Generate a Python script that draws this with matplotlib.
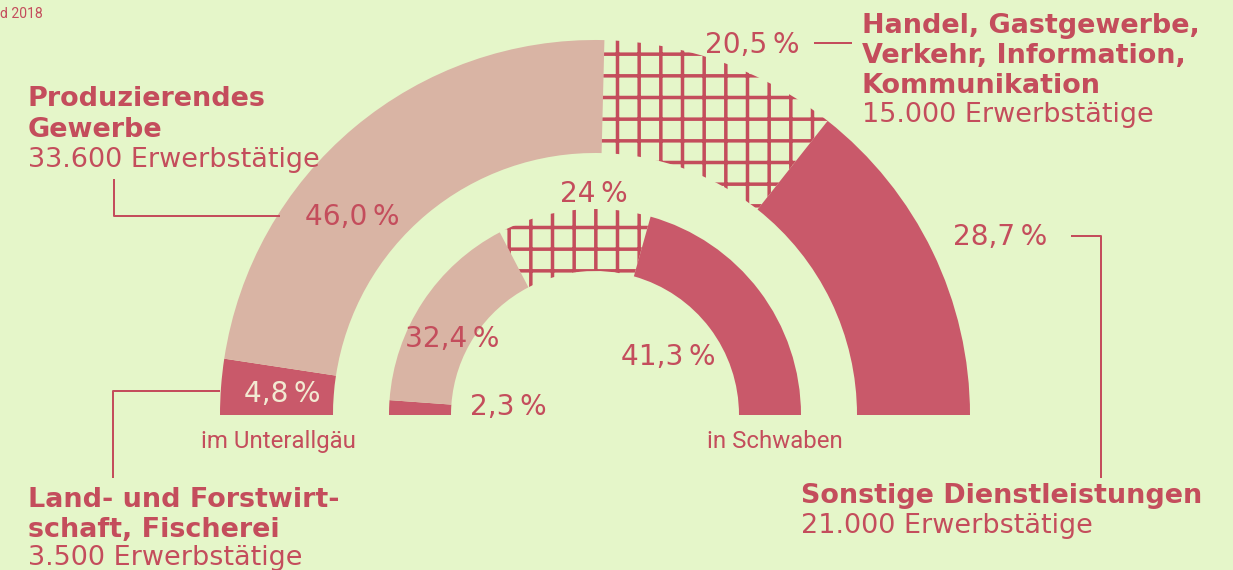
import numpy as np
import matplotlib.pyplot as plt
from matplotlib.patches import Wedge

# Erwerbstätige nach Wirtschaftsbereichen 2018
bereiche = ['Land- und Forstwirtschaft, Fischerei', 'Produzierendes Gewerbe',
            'Handel, Gastgewerbe, Verkehr, Information, Kommunikation',
            'Sonstige Dienstleistungen']
unterallgaeu = [4.8, 46.0, 20.5, 28.7]     # Anteil in %
schwaben = [2.3, 32.4, 24.0, 41.3]         # Anteil in %
erwerbstaetige = [3500, 33600, 15000, 21000]
labels_ua = ['4,8', '46,0', '20,5', '28,7']
labels_sw = ['2,3', '32,4', '24', '41,3']

BG = '#e5f6c9'
RED = '#c44d5c'
LIGHT = '#d9b4a4'
DARK = '#c9596a'
colors = [DARK, LIGHT, 'none', DARK]
hatches = [None, None, '+', None]

DPI = 130
plt.rcParams['hatch.linewidth'] = 3.5 * 72 / DPI
plt.rcParams['font.family'] = ['DejaVu Sans']

def pt(px):
    return px * 72 / DPI

fig = plt.figure(figsize=(1233 / DPI, 570 / DPI), dpi=DPI, facecolor=BG)
ax = fig.add_axes([0, 0, 1, 1])
ax.set_xlim(0, 1233)
ax.set_ylim(570, 0)
ax.axis('off')
ax.set_facecolor(BG)

cx, cy = 595, 415

def halbring(werte, r, w):
    start = 180.0
    for v, c, h in zip(werte, colors, hatches):
        end = start + v / 100 * 180
        if h:
            wd = Wedge((cx, cy), r, start, end, width=w, facecolor='none',
                       edgecolor=RED, hatch=h, lw=0)
        else:
            wd = Wedge((cx, cy), r, start, end, width=w, facecolor=c,
                       edgecolor='none')
        ax.add_patch(wd)
        start = end

halbring(unterallgaeu, 375, 113)
halbring(schwaben, 206, 62)

def fmt(n):
    return f'{n:,} Erwerbstätige'.replace(',', '.')

# Prozentwerte
pfs = pt(28)
pct = dict(fontsize=pfs, color=RED, ha='center', va='baseline')
ax.text(352, 225, labels_ua[1] + '\u2009%', **pct)
ax.text(282, 402, labels_ua[0] + '\u2009%', **{**pct, 'color': '#f2ead2'})
ax.text(752, 53, labels_ua[2] + '\u2009%', **pct)
ax.text(1000, 245, labels_ua[3] + '\u2009%', **pct)
ax.text(508, 415, labels_sw[0] + '\u2009%', **pct)
ax.text(452, 347, labels_sw[1] + '\u2009%', **pct)
ax.text(594, 202, labels_sw[2] + '\u2009%', **pct)
ax.text(668, 365, labels_sw[3] + '\u2009%', **pct)

# Beschriftungen der Bereiche
hfs = pt(27)
bold = dict(fontsize=hfs, color=RED, fontweight='bold', va='baseline')
reg = dict(fontsize=hfs, color=RED, va='baseline')

ax.text(28, 106, 'Produzierendes', **bold)
ax.text(28, 137, 'Gewerbe', **bold)
ax.text(28, 167, fmt(erwerbstaetige[1]), **reg)

ax.text(862, 33, 'Handel, Gastgewerbe,', **bold)
ax.text(862, 63, 'Verkehr, Information,', **bold)
ax.text(862, 93, 'Kommunikation', **bold)
ax.text(862, 122, fmt(erwerbstaetige[2]), **reg)

ax.text(28, 507, 'Land- und Forstwirt-', **bold)
ax.text(28, 537, 'schaft, Fischerei', **bold)
ax.text(28, 565, fmt(erwerbstaetige[0]), **reg)

ax.text(801, 503, 'Sonstige Dienstleistungen', **bold)
ax.text(801, 533, fmt(erwerbstaetige[3]), **reg)

# Verbindungslinien
lk = dict(color=RED, lw=pt(2), solid_capstyle='butt')
ax.plot([114, 114, 280], [179, 216, 216], **lk)
ax.plot([220, 113, 113], [391, 391, 478], **lk)
ax.plot([814, 852], [43, 43], **lk)
ax.plot([1071, 1101, 1101], [236, 236, 478], **lk)

# Ringbeschriftungen
cond = ['Liberation Sans Narrow', 'Roboto', 'DejaVu Sans']
ax.text(278, 448, 'im Unterallgäu', family=cond, fontsize=pt(24), color=RED,
        ha='center', va='baseline')
ax.text(775, 448, 'in Schwaben', family=cond, fontsize=pt(24), color=RED,
        ha='center', va='baseline')
ax.text(0, 18, 'd 2018', family=cond, fontsize=pt(14), color=RED, va='baseline')

fig.savefig('out.png', dpi=DPI, facecolor=BG)
